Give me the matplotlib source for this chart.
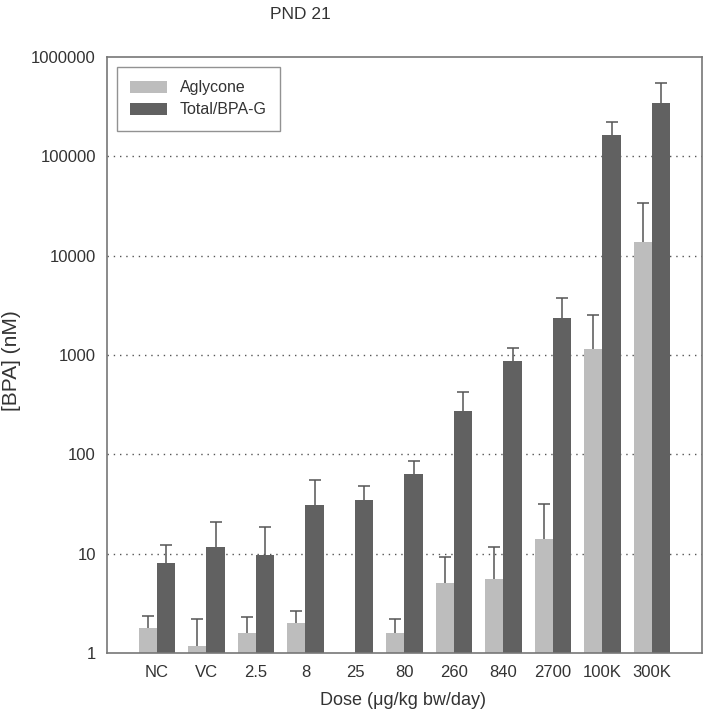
import numpy as np
import matplotlib.pyplot as plt

# Dose groups and BPA concentrations (nM)
doses = ['NC', 'VC', '2.5', '8', '25', '80', '260', '840', '2700', '100K', '300K']
aglycone = [1.79, 1.18, 1.59, 2.0, np.nan, 1.6, 5.1, 5.6, 14.0, 1150, 13800]
aglycone_err_top = [2.36, 2.2, 2.3, 2.65, np.nan, 2.2, 9.3, 11.7, 31.7, 2520, 34000]
total = [8.1, 11.7, 9.7, 31, 35, 63, 275, 880, 2340, 165000, 346000]
total_err_top = [12.3, 21, 18.6, 55, 48, 86, 428, 1180, 3780, 223000, 550000]
yticks = [1, 10, 100, 1000, 10000, 100000, 1000000]

plt.rcParams['font.family'] = ['Liberation Sans', 'DejaVu Sans']
text_col = '#333333'

fig = plt.figure(figsize=(7.04, 7.19), dpi=100)
ax = fig.add_axes([0.152, 0.0918, 0.845, 0.8289])

x = np.arange(len(doses))
w = 0.37
light = '#bdbdbd'
dark = '#616161'
errc = '#555555'

ax.bar(x - w / 2, aglycone, width=w, color=light, label='Aglycone', zorder=2)
ax.bar(x + w / 2, total, width=w, color=dark, label='Total/BPA-G', zorder=2)

# upward-only error bars with a cap on top
for xs, vals, tops in [(x - w / 2, aglycone, aglycone_err_top), (x + w / 2, total, total_err_top)]:
    ax.vlines(xs, vals, tops, color=errc, lw=1.1, zorder=3)
    ax.hlines(tops, xs - 0.12, xs + 0.12, color=errc, lw=1.1, zorder=3)

ax.set_yscale('log')
ax.set_ylim(1, 1000000)
ax.set_xlim(-1.01, 11.01)
ax.set_yticks(yticks)
ax.set_yticklabels([str(t) for t in yticks])
ax.minorticks_off()
ax.set_xticks(x)
ax.set_xticklabels(doses)
ax.tick_params(length=0, labelsize=12, labelcolor=text_col)
ax.tick_params(axis='y', pad=8)
ax.tick_params(axis='x', pad=9)

for t in yticks[1:-1]:
    ax.axhline(t, color='#555555', lw=1, linestyle=(0, (1, 3.5)), zorder=1)

for s in ax.spines.values():
    s.set_color('#777777')
    s.set_linewidth(1.2)

leg = ax.legend(loc='upper left', fontsize=11.5, frameon=True, fancybox=False,
                edgecolor='#777777', handlelength=2.3, handleheight=0.8,
                borderpad=0.85, labelspacing=0.45, handletextpad=0.8,
                bbox_to_anchor=(0.0, 1.0), borderaxespad=0.6)
leg.get_frame().set_linewidth(1.0)
for t in leg.get_texts():
    t.set_color(text_col)

fig.text(0.426, 0.980, 'PND 21', ha='center', va='center', fontsize=12.5, color=text_col)
fig.text(0.573, 0.026, 'Dose (\u03bcg/kg bw/day)', ha='center', va='center', fontsize=13, color=text_col)
fig.text(0.016, 0.498, '[BPA] (nM)', ha='center', va='center', rotation=90, fontsize=15, color=text_col)

fig.savefig('out.png', dpi=100)
